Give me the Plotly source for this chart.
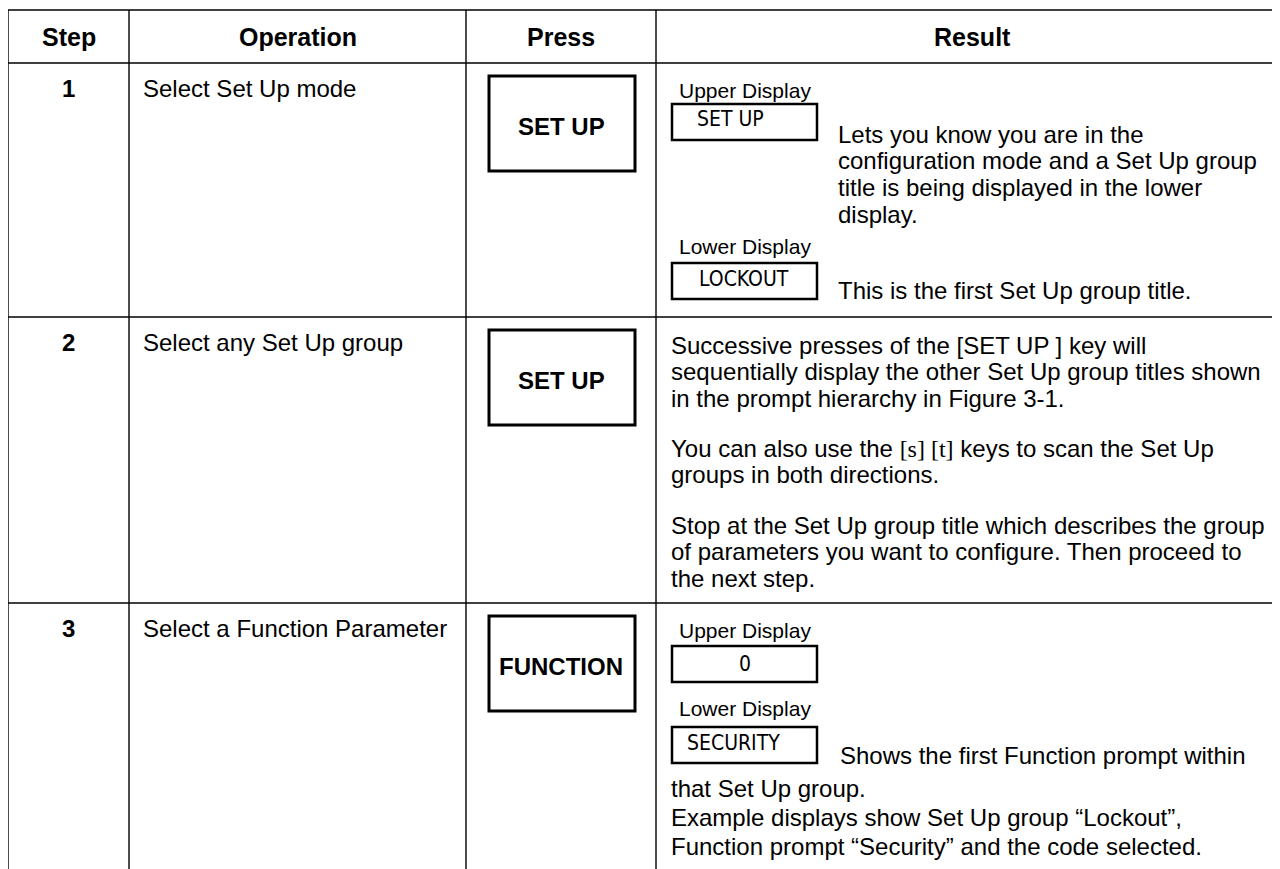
import plotly.graph_objects as go

# ---------------- data (table content) ----------------
headers = ["Step", "Operation", "Press", "Result"]
steps = ["1", "2", "3"]
operations = ["Select Set Up mode", "Select any Set Up group", "Select a Function Parameter"]
press_keys = ["SET UP", "SET UP", "FUNCTION"]

display_labels = ["Upper Display", "Lower Display"]
row1_upper_value = "SET UP"
row1_lower_value = "LOCKOUT"
row1_upper_text = ["Lets you know you are in the",
                   "configuration mode and a Set Up group",
                   "title is being displayed in the lower",
                   "display."]
row1_lower_text = ["This is the first Set Up group title."]

SERIF = '<span style="font-family:Liberation Serif, Times New Roman, serif">'
row2_text = ["Successive presses of the [SET UP ] key will",
             "sequentially display the other Set Up group titles shown",
             "in the prompt hierarchy in Figure 3-1.",
             "You can also use the " + SERIF + "[s] [t]</span> keys to scan the Set Up",
             "groups in both directions.",
             "Stop at the Set Up group title which describes the group",
             "of parameters you want to configure. Then proceed to",
             "the next step."]

row3_upper_value = "0"
row3_lower_value = "SECURITY"
row3_lower_text = ["Shows the first Function prompt within"]
row3_after_text = ["that Set Up group.",
                   "Example displays show Set Up group \u201cLockout\u201d,",
                   "Function prompt \u201cSecurity\u201d and the code selected."]

# ---------------- layout (positions, in page pixels) ----------------
W, H = 1280, 869
PAGE_OFF = 8  # default body margin of the html page
col_edges = [8, 129, 466, 656, 1288]
table_top, header_bottom = 10, 63
row_tops = [63, 317, 603]
FONT = "Liberation Sans, Arial, Helvetica, sans-serif"
DISP_FONT = "Liberation Sans Narrow, Arial Narrow, DejaVu Sans Condensed, Liberation Sans, sans-serif"
BODY = 24
HEAD = 25
LABEL = 21
DISP = 21

fig = go.Figure()
shapes = []
ann = []

def line(x0, y0, x1, y1, w=1.4):
    shapes.append(dict(type="line", xref="x", yref="y", x0=x0, y0=y0, x1=x1, y1=y1,
                       line=dict(color="black", width=w)))

def rect(x0, y0, x1, y1, w=2.0):
    shapes.append(dict(type="rect", xref="x", yref="y", x0=x0, y0=y0, x1=x1, y1=y1,
                       line=dict(color="black", width=w), fillcolor="rgba(0,0,0,0)"))

def text(x, y, s, size=BODY, anchor="left", bold=False, family=FONT, color="black"):
    ann.append(dict(x=x, y=y, xref="x", yref="y", text=s, showarrow=False,
                    xanchor=anchor, yanchor="middle",
                    font=dict(family=family, size=size, color=color,
                              weight="bold" if bold else "normal")))

# table grid
line(col_edges[0], table_top, W + 20, table_top)
line(col_edges[0], header_bottom, W + 20, header_bottom)
for yt in row_tops[1:]:
    line(col_edges[0], yt, W + 20, yt)
for xc in col_edges[:4]:
    line(xc, table_top, xc, H + 20)

# headers
for i, h in enumerate(headers):
    cx = (col_edges[i] + col_edges[i + 1]) / 2
    text(cx, 37, h, size=HEAD, anchor="center", bold=True)

# steps / operations / press keys
key_cx = (col_edges[2] + col_edges[3]) / 2
for i in range(3):
    yt = row_tops[i]
    text((col_edges[0] + col_edges[1]) / 2, yt + 25, steps[i], size=BODY, anchor="center", bold=True)
    text(col_edges[1] + 12, yt + 25, operations[i], size=BODY)
    rect(489, yt + 13, 635, yt + 108, w=3)
    text(key_cx, yt + 63, press_keys[i], size=BODY, anchor="center", bold=True)

# ----- row 1 result -----
text(677, 90, display_labels[0], size=LABEL)
rect(672, 104, 817, 140, w=2.5)
text(695, 119, row1_upper_value, size=DISP, family=DISP_FONT)
for k, s in enumerate(row1_upper_text):
    text(836, 134 + 26.7 * k, s)
text(677, 246, display_labels[1], size=LABEL)
rect(672, 263, 817, 299, w=2.5)
text(744, 279, row1_lower_value, size=DISP, anchor="center", family=DISP_FONT)
text(836, 290, row1_lower_text[0])

# ----- row 2 result -----
row2_y = [345, 371.5, 398, 448, 474.5, 525, 551.5, 578]
for s, y in zip(row2_text, row2_y):
    text(669, y, s)

# ----- row 3 result -----
text(677, 630, display_labels[0], size=LABEL)
rect(672, 646, 817, 682, w=2.5)
text(745, 664, row3_upper_value, size=DISP, anchor="center", family=DISP_FONT)
text(677, 708, display_labels[1], size=LABEL)
rect(672, 727, 817, 763, w=2.5)
text(685, 743, row3_lower_value, size=DISP, family=DISP_FONT)
text(838, 755, row3_lower_text[0])
for s, y in zip(row3_after_text, [788, 817, 846]):
    text(669, y, s)

fig.update_layout(
    width=W, height=H,
    margin=dict(l=0, r=0, t=0, b=0),
    paper_bgcolor="white", plot_bgcolor="white",
    xaxis=dict(range=[PAGE_OFF, W + PAGE_OFF], visible=False, fixedrange=True),
    yaxis=dict(range=[H + PAGE_OFF, PAGE_OFF], visible=False, fixedrange=True),
    shapes=shapes, annotations=ann, showlegend=False,
)

fig.write_html("out.html", config={"displayModeBar": False})
